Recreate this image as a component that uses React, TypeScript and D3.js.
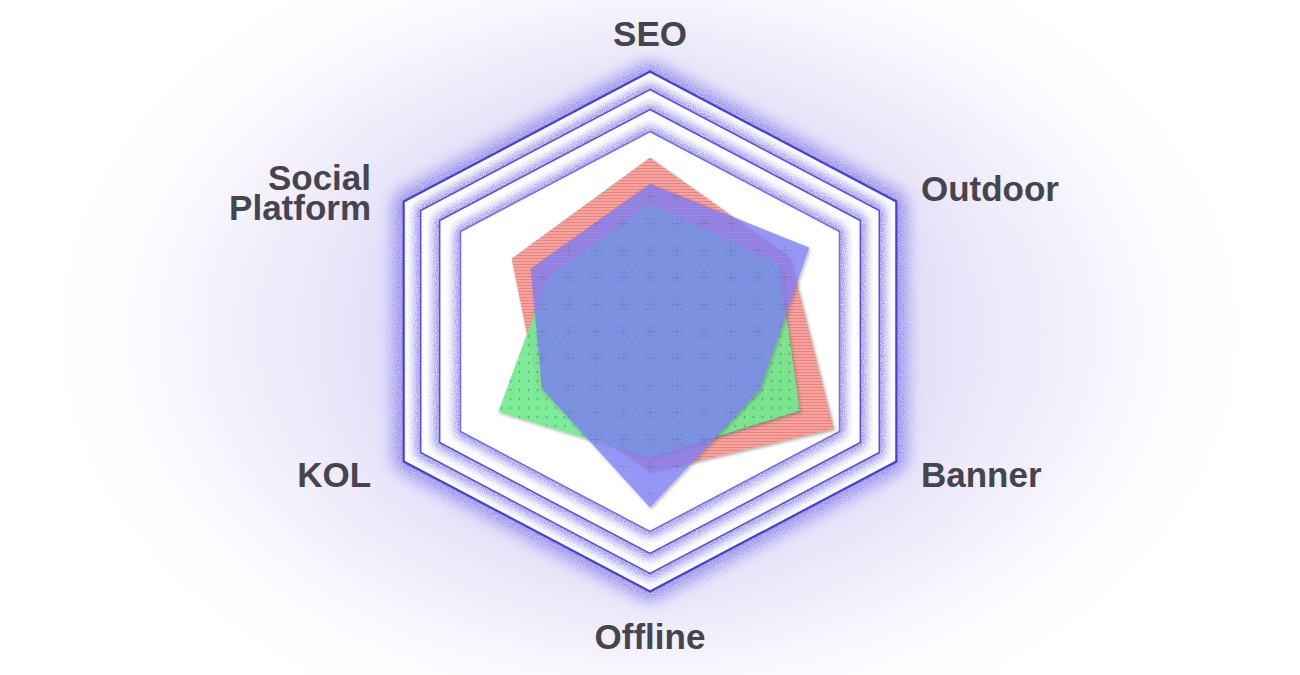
import React from 'react'
import * as d3 from 'd3'

// axes clockwise from the top
const axes = ['SEO', 'Outdoor', 'Banner', 'Offline', 'KOL', 'Social Platform']

// series values, one per axis (0-100 inside the white hexagon)
const redValues = [87, 74, 97, 70, 59, 73]
const greenValues = [64, 68, 79, 63, 80, 54]
const blueValues = [74, 84, 58, 88, 57, 63]

// decorative ring levels, outer to inner
const ringLevels = [130, 121, 111, 100]

const W = 1300
const H = 675

const App: React.FC = () => {
  const cx = 650
  const cy = 331.5
  const stretch = 1.094 // chart is drawn slightly wider than tall

  const r = d3.scaleLinear().domain([0, 130]).range([0, 260])
  const angle = d3
    .scaleLinear()
    .domain([0, axes.length])
    .range([0, Math.PI * 2])

  const pt = (v: number, i: number): [number, number] => {
    const a = angle(i)
    return [cx + stretch * r(v) * Math.sin(a), cy - r(v) * Math.cos(a)]
  }

  const line = d3.line().curve(d3.curveLinearClosed)
  const hex = (v: number) => line(axes.map((_, i) => pt(v, i))) || ''
  const poly = (vals: number[]) => line(vals.map((v, i) => pt(v, i))) || ''

  const series = [
    { key: 'red', values: redValues, fill: 'url(#redTex)', opacity: 1 },
    { key: 'green', values: greenValues, fill: 'url(#greenTex)', opacity: 0.92 },
    { key: 'blue', values: blueValues, fill: 'url(#blueTex)', opacity: 0.8 },
  ]

  const outer = ringLevels[0]

  return (
    <svg
      width={W}
      height={H}
      style={{ position: 'absolute', left: 0, top: 0, background: '#fff' }}
    >
      <defs>
        <radialGradient id="halo" cx="50%" cy="50%" r="50%">
          <stop offset="0%" stopColor="#ddd8f7" />
          <stop offset="40%" stopColor="#e5e1f9" />
          <stop offset="70%" stopColor="#f3f1fc" />
          <stop offset="100%" stopColor="#ffffff" stopOpacity={0} />
        </radialGradient>

        <filter id="bigBlur" x="-50%" y="-50%" width="200%" height="200%">
          <feGaussianBlur stdDeviation="45" />
        </filter>

        <filter id="ringGlow" x="-20%" y="-20%" width="140%" height="140%">
          <feGaussianBlur in="SourceGraphic" stdDeviation="5.5" result="blur" />
          <feTurbulence type="fractalNoise" baseFrequency="0.9" numOctaves="2" seed="4" result="noise" />
          <feColorMatrix
            in="noise"
            type="matrix"
            values="0 0 0 0 0  0 0 0 0 0  0 0 0 0 0  2.8 0 0 0 -0.7"
            result="grain"
          />
          <feComposite in="blur" in2="grain" operator="in" result="speckle" />
          <feComponentTransfer in="blur" result="soft">
            <feFuncA type="linear" slope="0.45" />
          </feComponentTransfer>
          <feMerge>
            <feMergeNode in="soft" />
            <feMergeNode in="speckle" />
          </feMerge>
        </filter>

        <filter id="outerGlow" x="-20%" y="-20%" width="140%" height="140%">
          <feGaussianBlur in="SourceGraphic" stdDeviation="9" result="blur" />
          <feTurbulence type="fractalNoise" baseFrequency="0.9" numOctaves="2" seed="7" result="noise" />
          <feColorMatrix
            in="noise"
            type="matrix"
            values="0 0 0 0 0  0 0 0 0 0  0 0 0 0 0  2.8 0 0 0 -0.7"
            result="grain"
          />
          <feComposite in="blur" in2="grain" operator="in" result="speckle" />
          <feComponentTransfer in="blur" result="soft">
            <feFuncA type="linear" slope="0.45" />
          </feComponentTransfer>
          <feMerge>
            <feMergeNode in="soft" />
            <feMergeNode in="speckle" />
          </feMerge>
        </filter>

        <filter id="shadow" x="-10%" y="-10%" width="120%" height="120%">
          <feDropShadow dx="1.5" dy="2" stdDeviation="1.8" floodColor="#555" floodOpacity="0.45" />
        </filter>

        <pattern id="redTex" patternUnits="userSpaceOnUse" width="6" height="3">
          <rect width="6" height="3" fill="#f7a29d" />
          <rect width="6" height="1" fill="#e6847f" />
        </pattern>

        <pattern id="greenTex" patternUnits="userSpaceOnUse" width="9" height="9" x={cx} y={cy}>
          <rect width="9" height="9" fill="#72ea8f" />
          <circle cx="4.5" cy="4.5" r="0.8" fill="#2f7a48" />
        </pattern>

        <pattern
          id="blueTex"
          patternUnits="userSpaceOnUse"
          width="27"
          height="27"
          x={cx - 13.5}
          y={cy - 13.5}
        >
          <rect width="27" height="27" fill="#7d7df5" />
          <path d="M8,13.5H19M13.5,8V19" stroke="#6a70c4" strokeWidth="1" />
        </pattern>
      </defs>

      {/* soft lavender halo */}
      <ellipse cx={cx} cy={cy} rx={620} ry={440} fill="url(#halo)" />
      <path d={hex(outer + 10)} fill="#d2cbf4" opacity={0.4} filter="url(#bigBlur)" />

      {/* stacked rings */}
      {ringLevels.map((lv, i) => (
        <g key={lv}>
          <path
            d={hex(lv)}
            fill="none"
            stroke="#5f52e4"
            strokeWidth={i === 0 ? 10 : 7}
            filter={i === 0 ? 'url(#outerGlow)' : 'url(#ringGlow)'}
          />
          <path
            d={hex(lv)}
            fill="#ffffff"
            stroke={i === 0 ? '#4a3ed8' : i === ringLevels.length - 1 ? '#766cec' : '#5a4ee2'}
            strokeWidth={i === 0 ? 2.2 : 1.5}
            strokeLinejoin="miter"
          />
        </g>
      ))}

      {/* series */}
      {series.map(s => (
        <path
          key={s.key}
          d={poly(s.values)}
          fill={s.fill}
          opacity={s.opacity}
          filter="url(#shadow)"
        />
      ))}

      {/* axis labels */}
      {axes.map((name, i) => {
        const a = angle(i)
        const s = Math.sin(a)
        const c = Math.cos(a)
        const [lx, ly] = pt(outer + 13, i)
        const anchor = s > 0.1 ? 'start' : s < -0.1 ? 'end' : 'middle'
        const lines = name.split(' ')
        let base = ly + 12
        if (c > 0.9) base = ly
        if (c < -0.9) base = ly + 31
        const dx = s < -0.1 ? -8 : 0
        const lh = 30
        const first = base - ((lines.length - 1) * lh) / 2 + (lines.length > 1 ? 4 : 0)
        return (
          <text
            key={name}
            x={lx + dx}
            y={first}
            textAnchor={anchor}
            fontFamily="'Liberation Sans', Arial, Helvetica, sans-serif"
            fontWeight="bold"
            fontSize={35}
            fill="#45454d"
          >
            {lines.map((t, j) => (
              <tspan key={t} x={lx + dx} dy={j === 0 ? 0 : lh}>
                {t}
              </tspan>
            ))}
          </text>
        )
      })}
    </svg>
  )
}

export default App
